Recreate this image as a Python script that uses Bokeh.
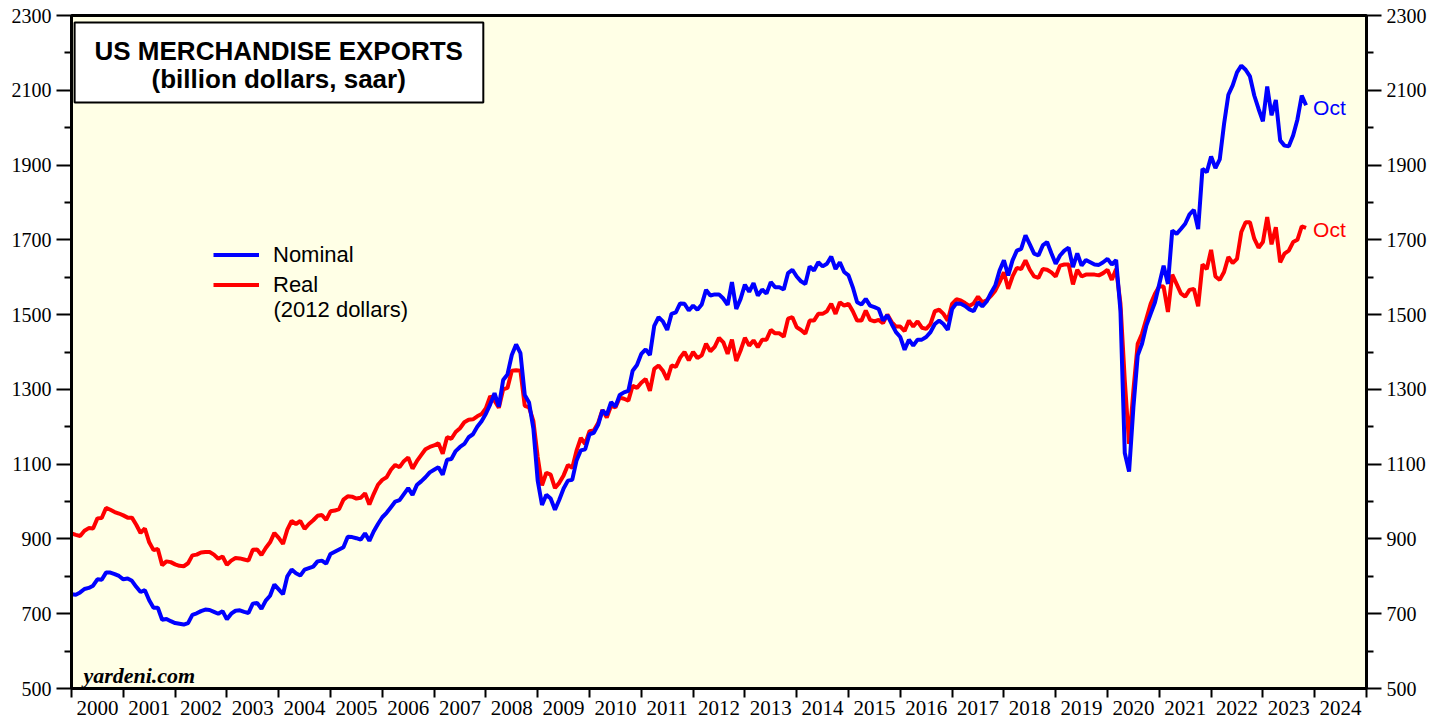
from bokeh.plotting import figure
from bokeh.models import (FixedTicker, LinearAxis, CustomJSTickFormatter, Label,
                          BoxAnnotation, Legend, LegendItem, Range1d, ColumnDataSource)
from bokeh.embed import file_html
from bokeh.resources import INLINE

# Monthly series, Dec 1999 .. Oct 2023 (billion dollars, saar)
nominal = [
    752, 751, 757, 766, 769, 775, 792, 791, 810, 810,
    806, 801, 792, 794, 788, 772, 758, 763, 736, 716,
    716, 684, 686, 680, 675, 673, 671, 675, 697, 701,
    707, 711, 710, 705, 700, 707, 685, 700, 708, 709,
    705, 702, 727, 729, 713, 735, 748, 778, 765, 752,
    800, 818, 808, 802, 818, 822, 826, 840, 842, 834,
    860, 866, 872, 878, 906, 905, 902, 898, 915, 895,
    920, 940, 958, 970, 985, 1000, 1004, 1020, 1036, 1018,
    1044, 1054, 1065, 1078, 1085, 1092, 1072, 1112, 1114, 1135,
    1146, 1154, 1172, 1180, 1200, 1215, 1235, 1260, 1290, 1254,
    1325, 1340, 1392, 1420, 1397, 1285, 1265, 1195, 1056, 991,
    1018, 1008, 978, 1005, 1035, 1056, 1058, 1110, 1137, 1140,
    1180, 1184, 1205, 1244, 1232, 1266, 1254, 1285, 1292, 1296,
    1350, 1365, 1395, 1407, 1392, 1470, 1493, 1482, 1459, 1502,
    1506, 1530, 1529, 1511, 1524, 1513, 1527, 1566, 1551, 1554,
    1554, 1543, 1526, 1587, 1515, 1542, 1580, 1561, 1584, 1551,
    1567, 1556, 1587, 1573, 1573, 1567, 1611, 1620, 1602, 1589,
    1582, 1629, 1618, 1640, 1629, 1636, 1655, 1622, 1640, 1614,
    1605, 1573, 1533, 1527, 1542, 1524, 1520, 1515, 1484, 1498,
    1475, 1453, 1440, 1406, 1433, 1417, 1433, 1433, 1440, 1453,
    1475, 1484, 1475, 1459, 1515, 1530, 1529, 1523, 1514, 1509,
    1533, 1522, 1535, 1558, 1578, 1618, 1645, 1605, 1645, 1671,
    1676, 1712, 1688, 1663, 1658, 1685, 1694, 1664, 1636, 1658,
    1671, 1679, 1627, 1664, 1631, 1646, 1640, 1634, 1633, 1640,
    1649, 1634, 1646, 1510, 1130, 1080, 1252, 1391, 1422, 1471,
    1502, 1533, 1582, 1631, 1582, 1725, 1716, 1729, 1743, 1768,
    1780, 1729, 1890, 1881, 1923, 1892, 1915, 2010, 2088, 2113,
    2148, 2166, 2155, 2137, 2086, 2050, 2017, 2110, 2033, 2074,
    1966, 1952, 1950, 1979, 2022, 2086, 2060,
]
real = [
    915, 911, 908, 922, 929, 928, 955, 956, 983, 978,
    972, 968, 963, 957, 957, 938, 916, 928, 891, 870,
    873, 830, 840, 838, 832, 828, 827, 835, 856, 858,
    864, 865, 865, 858, 847, 853, 831, 842, 849, 848,
    845, 842, 871, 872, 857, 876, 891, 916, 903, 887,
    925, 948, 940, 948, 927, 940, 950, 962, 964, 951,
    974, 976, 980, 1005, 1014, 1013, 1008, 1010, 1022, 992,
    1020, 1045, 1058, 1065, 1085, 1098, 1092, 1108, 1118, 1088,
    1108, 1124, 1140, 1146, 1150, 1156, 1128, 1172, 1168, 1186,
    1196, 1212, 1219, 1220, 1228, 1234, 1250, 1282, 1270, 1251,
    1300, 1304, 1350, 1351, 1350, 1256, 1252, 1215, 1119, 1043,
    1077, 1072, 1036, 1050, 1070, 1098, 1090, 1136, 1170, 1154,
    1188, 1190, 1210, 1245, 1225, 1256, 1252, 1278, 1275, 1270,
    1310, 1304, 1318, 1328, 1296, 1355, 1364, 1350, 1326, 1364,
    1360, 1385, 1400, 1378, 1400, 1384, 1391, 1422, 1402, 1414,
    1438, 1426, 1395, 1433, 1376, 1404, 1438, 1417, 1431, 1413,
    1433, 1433, 1459, 1450, 1450, 1441, 1489, 1493, 1466, 1459,
    1449, 1484, 1484, 1502, 1502, 1509, 1529, 1502, 1533, 1524,
    1529, 1509, 1484, 1484, 1511, 1486, 1482, 1486, 1477, 1500,
    1480, 1468, 1468, 1456, 1484, 1468, 1482, 1465, 1462, 1475,
    1509, 1513, 1502, 1484, 1529, 1541, 1538, 1531, 1523, 1530,
    1548, 1533, 1538, 1550, 1564, 1587, 1613, 1569, 1602, 1625,
    1622, 1645, 1620, 1602, 1598, 1622, 1620, 1613, 1602, 1631,
    1634, 1634, 1581, 1620, 1602, 1607, 1607, 1607, 1605, 1611,
    1620, 1593, 1622, 1530, 1324, 1154, 1297, 1422, 1449, 1489,
    1529, 1556, 1576, 1575, 1507, 1607, 1582, 1557, 1548, 1566,
    1569, 1522, 1634, 1622, 1673, 1602, 1593, 1614, 1654, 1638,
    1649, 1721, 1747, 1747, 1703, 1679, 1694, 1761, 1688, 1734,
    1640, 1663, 1671, 1694, 1700, 1736, 1732,
]
years = list(range(2000, 2025))
y_major = [500, 700, 900, 1100, 1300, 1500, 1700, 1900, 2100, 2300]
y_minor = [600, 800, 1000, 1200, 1400, 1600, 1800, 2000, 2200]

# month-end positions in fractional years (first point = end of Dec 1999)
dates = [2000 + i / 12 for i in range(len(nominal))]
src = ColumnDataSource(dict(x=dates, nominal=nominal, real=real))

p = figure(width=1440, height=720, output_backend="svg", toolbar_location=None,
           x_range=Range1d(2000, 2025), y_range=Range1d(500, 2300),
           x_axis_type=None, y_axis_type=None,
           min_border_left=71, min_border_right=74, min_border_top=15, min_border_bottom=32)
p.background_fill_color = "#FFFFE6"
p.border_fill_color = "white"
p.outline_line_color = "black"
p.outline_line_width = 3
p.xgrid.visible = False
p.ygrid.visible = False

SERIF = "Liberation Serif"
SANS = "Liberation Sans"

def yaxis():
    return LinearAxis(ticker=FixedTicker(ticks=y_major, minor_ticks=y_minor),
                      axis_line_width=3, axis_line_color="black",
                      major_tick_line_width=2, major_tick_out=15, major_tick_in=0,
                      minor_tick_line_width=2, minor_tick_out=7, minor_tick_in=0,
                      major_label_text_font=SERIF, major_label_text_font_size="20px",
                      major_label_text_color="black", major_label_standoff=5)

p.add_layout(yaxis(), "left")
p.add_layout(yaxis(), "right")

xaxis = LinearAxis(ticker=FixedTicker(ticks=[y + 0.5 for y in years],
                                      minor_ticks=years + [2025]),
                   formatter=CustomJSTickFormatter(code="return Math.floor(tick).toString();"),
                   axis_line_width=3, axis_line_color="black",
                   major_tick_out=0, major_tick_in=0,
                   minor_tick_line_width=2, minor_tick_out=9, minor_tick_in=0,
                   major_label_text_font=SERIF, major_label_text_font_size="21px",
                   major_label_text_color="black", major_label_standoff=3)
p.add_layout(xaxis, "below")

rr = p.line("x", "real", source=src, line_color="#FF0000", line_width=4)
rb = p.line("x", "nominal", source=src, line_color="#0000FF", line_width=4)

legend = Legend(items=[LegendItem(label="Nominal", renderers=[rb]),
                       LegendItem(label="Real", renderers=[rr])],
                location=(142, 390), orientation="vertical",
                background_fill_alpha=0, border_line_alpha=0,
                padding=0, margin=0, spacing=3,
                glyph_width=46, glyph_height=27, label_height=27, label_standoff=14,
                label_text_font=SANS, label_text_font_size="22px",
                label_text_color="black")
p.add_layout(legend)
p.add_layout(Label(x=2003.9, y=1514, text="(2012 dollars)", text_baseline="middle",
                   text_font=SANS, text_font_size="22px", text_color="black"))

# title box
p.add_layout(BoxAnnotation(left=2000.06, right=2007.95, top=2281, bottom=2067,
                           fill_color="white", fill_alpha=1,
                           line_color="black", line_width=2, line_alpha=1))
p.add_layout(Label(x=2004.0, y=2204, text="US MERCHANDISE EXPORTS", text_align="center",
                   text_baseline="middle", text_font=SANS, text_font_style="bold",
                   text_font_size="26px", text_color="black"))
p.add_layout(Label(x=2004.0, y=2129, text="(billion dollars, saar)", text_align="center",
                   text_baseline="middle", text_font=SANS, text_font_style="bold",
                   text_font_size="26px", text_color="black"))

# end labels
p.add_layout(Label(x=dates[-1], y=nominal[-1], text="Oct", x_offset=7, y_offset=-2,
                   text_baseline="middle", text_font=SANS, text_font_size="21px",
                   text_color="#0000FF"))
p.add_layout(Label(x=dates[-1], y=real[-1], text="Oct", x_offset=7, y_offset=-2,
                   text_baseline="middle", text_font=SANS, text_font_size="21px",
                   text_color="#FF0000"))

p.add_layout(Label(x=2000.23, y=536, text="yardeni.com", text_baseline="alphabetic",
                   text_font=SERIF, text_font_style="bold italic", text_font_size="22px",
                   text_color="black"))

open("out.html", "w").write(file_html(p, INLINE))
